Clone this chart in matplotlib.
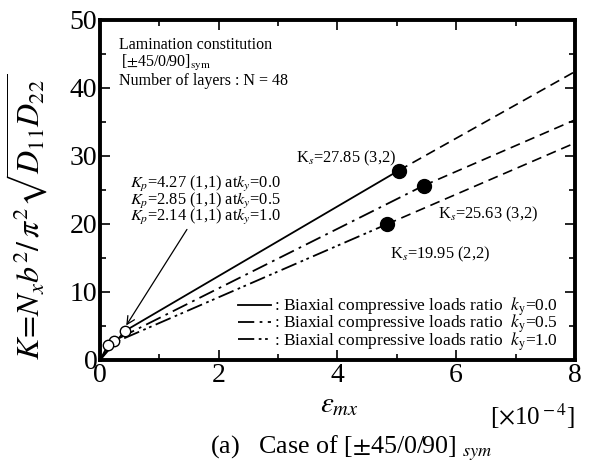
import numpy as np
import matplotlib.pyplot as plt

plt.rcParams['font.family'] = ['Liberation Serif', 'DejaVu Serif']
plt.rcParams['mathtext.fontset'] = 'stix'

# load ratios k_y
ky_labels = ['0.0', '0.5', '1.0']
# primary buckling (open circles)
eps_p = [0.42, 0.24, 0.13]
kp = [4.27, 2.85, 2.14]
# secondary buckling (filled circles)
eps_s = [5.03, 5.45, 4.83]
ks = [27.85, 25.63, 19.95]
ks_modes = ['(3,2)', '(3,2)', '(2,2)']
# extrapolated end of each curve
eps_end = [8.0, 8.0, 8.0]
k_end = [42.4, 35.3, 31.9]

styles = [
    '-',
    (0, (9, 3, 1.5, 3)),
    (0, (9, 2.5, 1.5, 2, 1.5, 2.5)),
]

fig = plt.figure(figsize=(5.89, 4.65), dpi=100)
ax = fig.add_axes([0.170, 0.226, 0.806, 0.731])

for i in range(3):
    ax.plot([0, eps_p[i], eps_s[i]], [0, kp[i], ks[i]], color='black', lw=1.3,
            linestyle=styles[i],
            label=r': Biaxial compressive loads ratio  $k_{\rm y}$=' + ky_labels[i])
    ax.plot([eps_s[i], eps_end[i]], [ks[i], k_end[i]], color='black', lw=1.2,
            linestyle=(0, (6, 3.5)))
    ax.plot(eps_p[i], kp[i], 'o', ms=7.5, mfc='white', mec='black', mew=1.0, zorder=5)
    ax.plot(eps_s[i], ks[i], 'o', ms=10, color='black', zorder=5)

ax.set_xlim(0, 8)
ax.set_ylim(0, 50)
ax.set_xticks([0, 2, 4, 6, 8])
ax.set_xticks(np.arange(0, 9, 1), minor=True)
ax.set_yticks([0, 10, 20, 30, 40, 50])
ax.set_yticks(np.arange(0, 51, 5), minor=True)
ax.tick_params(which='both', direction='in', top=True, right=True, width=1.2)
ax.tick_params(which='major', length=7, labelsize=20, pad=2)
ax.tick_params(which='minor', length=4)
for s in ax.spines.values():
    s.set_linewidth(2.8)

ax.set_ylabel(r'$K\!=\!N_x b^2/\,\pi^2\sqrt{D_{11}D_{22}}$', fontsize=23)
ax.yaxis.set_label_coords(-0.105, 0.42)
fig.text(0.577, 0.128, r'$\varepsilon_{mx}$', fontsize=21, ha='center', va='center')
fig.text(0.905, 0.105, r'[$\times$10$^{\rm -4}$]', fontsize=18, ha='center', va='center')
fig.text(0.596, 0.036, r'(a)   Case of [$\pm$45/0/90] $_{sym}$', fontsize=18.7,
         ha='center', va='center')

ax.text(0.04, 0.926, 'Lamination constitution', transform=ax.transAxes,
        fontsize=11.5, va='center')
ax.text(0.045, 0.873, r'[$\pm$45/0/90]$_{\rm sym}$', transform=ax.transAxes,
        fontsize=11.5, va='center')
ax.text(0.04, 0.82, 'Number of layers : N = 48', transform=ax.transAxes,
        fontsize=11.5, va='center')

kp_text = '\n'.join(r'$K_p$=%.2f (1,1) at$k_y$=%s' % (kp[i], ky_labels[i]) for i in range(3))
ax.annotate(kp_text, xy=(eps_p[0] + 0.02, kp[0] + 0.8), xytext=(0.5, 19.6),
            fontsize=11.8, ha='left', va='bottom', linespacing=0.72,
            arrowprops=dict(arrowstyle='->', color='black', lw=0.9,
                            shrinkA=0, shrinkB=0, mutation_scale=14))

ax.text(eps_s[0] - 0.05, ks[0] + 0.4, r'K$_s$=%.2f %s' % (ks[0], ks_modes[0]),
        fontsize=11.8, ha='right', va='bottom')
ax.text(eps_s[1] + 0.25, ks[1] - 2.8, r'K$_s$=%.2f %s' % (ks[1], ks_modes[1]),
        fontsize=11.8, ha='left', va='top')
ax.text(eps_s[2] + 0.05, ks[2] - 3.0, r'K$_s$=%.2f %s' % (ks[2], ks_modes[2]),
        fontsize=11.8, ha='left', va='top')

ax.legend(loc='lower right', bbox_to_anchor=(0.99, -0.015), frameon=False,
          fontsize=12.5, handlelength=1.9, handletextpad=0.2, labelspacing=-0.3,
          borderpad=0.2)

fig.savefig('out.png', dpi=100)
